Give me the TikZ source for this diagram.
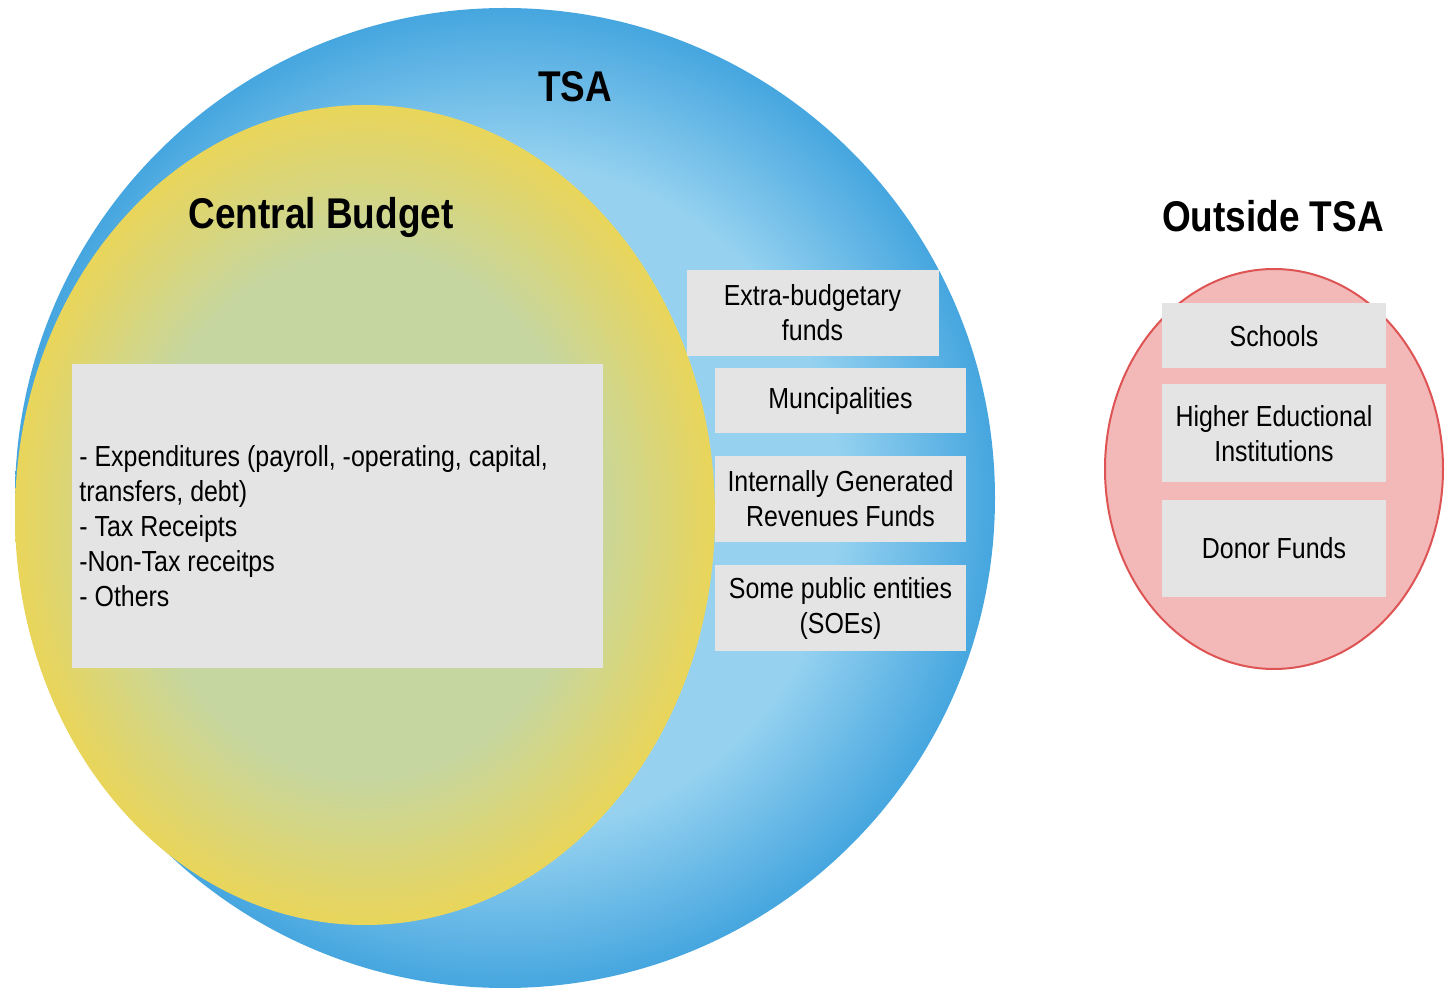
\documentclass[tikz,border=0pt]{standalone}
\usepackage{fontspec}
\setmainfont{Liberation Sans}[FakeStretch=0.86]
\definecolor{tsalight}{RGB}{150, 210, 240}
\definecolor{tsadark}{RGB}{70, 166, 223}
\definecolor{cblight}{RGB}{198, 214, 160}
\definecolor{cbdark}{RGB}{233, 213, 90}
\definecolor{fundgray}{RGB}{228, 228, 228}
\definecolor{outfill}{RGB}{243, 184, 184}
\definecolor{outline}{RGB}{222, 84, 84}
\pgfdeclareradialshading{tsashade}{\pgfpoint{0bp}{0bp}}{color(0bp)=(tsalight); color(17bp)=(tsalight); color(25bp)=(tsadark); color(50bp)=(tsadark)}
\pgfdeclareradialshading{cbshade}{\pgfpoint{0bp}{0bp}}{color(0bp)=(cblight); color(16bp)=(cblight); color(25bp)=(cbdark); color(50bp)=(cbdark)}
\usetikzlibrary{shapes.geometric, positioning}

\begin{document}
\begin{tikzpicture}[x=0.5pt, y=-0.5pt,
    title/.style={font=\fontsize{21.5}{24}\selectfont\bfseries},
    fundbox/.style={fill=fundgray, inner sep=0pt, align=center, font=\fontsize{14.5}{17.5}\selectfont}]
  \useasboundingbox (0,0) rectangle (1448,989);

  % the three sets
  \node[circle, shading=tsashade, minimum size=490pt, inner sep=0pt] (tsa) at (505,498) {};
  \node[ellipse, shading=cbshade, minimum width=350pt, minimum height=410pt, inner sep=0pt] (central) at (365,515) {};
  \node[ellipse, draw=outline, line width=1pt, fill=outfill, minimum width=169pt, minimum height=200pt, inner sep=0pt] (outside) at (1274,469) {};

  \node[title] (tsalabel) at (575,87) {TSA};
  \node[title] (centrallabel) at (321,217) {Central Budget};
  \node[title] (outsidelabel) at (1273,216) {Outside TSA};

  % central budget contents
  \node[fundbox, minimum width=265.5pt, minimum height=152pt] (budget) at (337.5,516) {};
  \node[anchor=west, align=left, inner sep=0pt, font=\fontsize{14.5}{17.5}\selectfont] (budgettext) at (79,526)
    {- Expenditures (payroll, -operating, capital,\\ transfers, debt)\\ - Tax Receipts\\ -Non-Tax receitps\\ - Others};

  % other funds inside the TSA
  \node[fundbox, minimum width=126pt, minimum height=43pt] (extra) at (812.5,313) {Extra-budgetary\\ funds};
  \node[fundbox, minimum width=125.5pt, minimum height=32.5pt] (munc) at (840.5,401) {Muncipalities};
  \node[fundbox, minimum width=125.5pt, minimum height=43pt] (igr) at (840.5,499) {Internally Generated\\ Revenues Funds};
  \node[fundbox, minimum width=125.5pt, minimum height=43pt] (soe) at (840.5,608) {Some public entities\\ (SOEs)};

  % outside the TSA
  \node[fundbox, minimum width=112pt, minimum height=32.5pt] (schools) at (1274,336) {Schools};
  \node[fundbox, minimum width=112pt, minimum height=49pt] (higher) at (1274,433.5) {Higher Eductional\\ Institutions};
  \node[fundbox, minimum width=112pt, minimum height=48.5pt] (donor) at (1274,548.5) {Donor Funds};
\end{tikzpicture}
\end{document}
